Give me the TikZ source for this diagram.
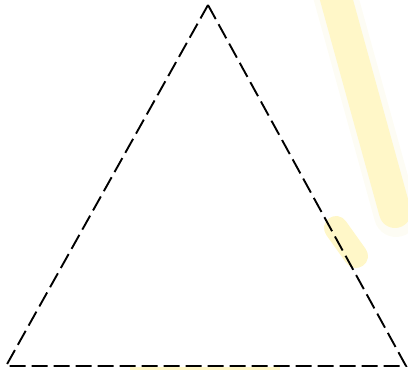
\documentclass[tikz,border=0pt]{standalone}
\begin{document}
\begin{tikzpicture}[x=1pt,y=-1pt,
  edge/.style={draw=black,line width=1.9pt,dash pattern=on 16pt off 6pt},
  glow/.style={draw=hl,line cap=round}]
\definecolor{hl}{RGB}{255,247,200}
\definecolor{hlfaint}{RGB}{253,252,244}
\useasboundingbox (0,0) rectangle (408,370);
\begin{scope}
\clip (0,0) rectangle (408,370);
\draw[draw=hlfaint,line width=44pt,line cap=round] (331,-20) -- (396,215);
\draw[glow,line width=32pt] (331,-20) -- (395,212);
\draw[glow,line width=24pt] (336,228) -- (356,256);
\fill[hl] (130,367) rectangle (280,371);
\end{scope}
\coordinate (A) at (208,5);
\coordinate (B) at (6,366);
\coordinate (C) at (406,366);
\draw[edge] (A) -- (C) -- (B) -- cycle;
\end{tikzpicture}
\end{document}
